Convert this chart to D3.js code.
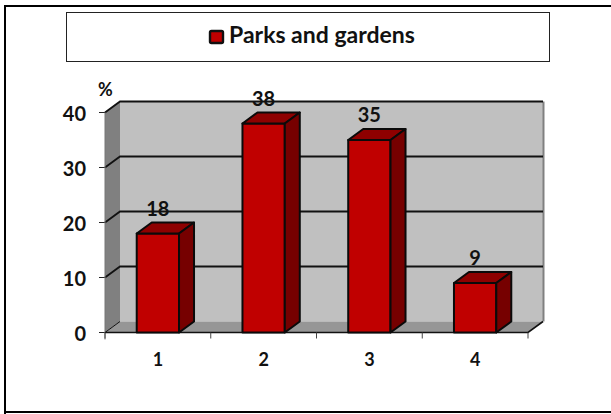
<!DOCTYPE html>
<html><head><meta charset="utf-8">
<script src="https://cdnjs.cloudflare.com/ajax/libs/d3/7.8.5/d3.min.js"></script>
<style>html,body{margin:0;background:#fff}svg{display:block}text{font-family:Lato,"Open Sans","Noto Sans",sans-serif;font-weight:700;fill:#111}</style>
</head><body><script>
const categories = ["1","2","3","4"];
const values = [18,38,35,9];
const labels = ["18","38","35","9"];
const ticks = [0,10,20,30,40];
const seriesName = "Parks and gardens";

const W=611,H=414;
const svg=d3.select("body").append("svg").attr("width",W).attr("height",H);
const x0=105,x1=528,y0=332.5,y40=112.5;
const dx=15,dy=-11;
const x=d3.scaleBand().domain(categories).range([x0,x1]).paddingInner(0.6).paddingOuter(0.3);
const y=d3.scaleLinear().domain([0,40]).range([y0,y40]);
const poly=(pts,fill,stroke,sw)=>svg.append("polygon").attr("points",pts.map(p=>p.join(",")).join(" ")).attr("fill",fill).attr("stroke",stroke||"none").attr("stroke-width",sw||0).attr("stroke-linejoin","round");

svg.append("path").attr("d","M5,414V6H611").attr("fill","none").attr("stroke","#000").attr("stroke-width",2);
svg.append("rect").attr("x",5).attr("y",411).attr("width",W).attr("height",2).attr("fill","#000");
svg.append("rect").attr("x",66.5).attr("y",12.5).attr("width",483).attr("height",49).attr("fill","#fff").attr("stroke","#222").attr("stroke-width",1);
svg.append("rect").attr("x",210).attr("y",31).attr("width",13).attr("height",12).attr("rx",1.5).attr("fill","#c00000").attr("stroke","#111").attr("stroke-width",2.4);
svg.append("text").attr("x",229).attr("y",43).attr("font-size",23).text(seriesName);

poly([[x0,y0],[x0+dx,y0+dy],[x0+dx,y40+dy],[x0,y40]],"#808080");
poly([[x0+dx,y40+dy],[x1+dx,y40+dy],[x1+dx,y0+dy],[x0+dx,y0+dy]],"#c0c0c0");
poly([[x0,y0],[x0+dx,y0+dy],[x1+dx,y0+dy],[x1,y0]],"#969696");
svg.append("line").attr("x1",x1+dx+.5).attr("x2",x1+dx+.5).attr("y1",y40+dy).attr("y2",y0+dy).attr("stroke","#808080").attr("stroke-width",2);

ticks.forEach(t=>{
  const yy=y(t);
  svg.append("path").attr("d",`M${x0},${yy}L${x0+dx},${yy+dy}`+(t>0?`L${x1+dx},${yy+dy}`:"")).attr("fill","none").attr("stroke","#111").attr("stroke-width",t>0?1.8:1);
  svg.append("line").attr("x1",x0-6).attr("x2",x0).attr("y1",yy).attr("y2",yy).attr("stroke","#222");
});
svg.append("line").attr("x1",x0).attr("x2",x0).attr("y1",y40).attr("y2",y0+7).attr("stroke","#777");

ticks.forEach(t=>svg.append("text").attr("x",x0-19).attr("y",y(t)+8).attr("text-anchor","end").attr("font-size",20).text(t));
svg.append("text").attr("x",98).attr("y",96).attr("font-size",18).text("%");

svg.append("path").attr("d",`M${x0},${y0}H${x1}L${x1+dx},${y0+dy}`).attr("fill","none").attr("stroke","#111").attr("stroke-width",1.6);
const step=(x1-x0)/categories.length;
d3.range(categories.length+1).forEach(i=>svg.append("line").attr("x1",x0+i*step).attr("x2",x0+i*step).attr("y1",y0).attr("y2",y0+6).attr("stroke","#444"));
categories.forEach((c,i)=>svg.append("text").attr("x",x0+(i+.5)*step).attr("y",366).attr("text-anchor","middle").attr("font-size",18).text(c));

values.forEach((v,i)=>{
  const l=x(categories[i]),r=l+x.bandwidth(),t=y(v),b=y0;
  poly([[l,b],[l,t],[r,t],[r,b]],"#c00000","#0a0a0a",2);
  poly([[l,t],[l+dx,t+dy],[r+dx,t+dy],[r,t]],"#8e0000","#0a0a0a",2);
  poly([[r,t],[r+dx,t+dy],[r+dx,b+dy],[r,b]],"#760000","#0a0a0a",2);
  svg.append("text").attr("x",(l+r)/2).attr("y",t-18).attr("text-anchor","middle").attr("font-size",20).text(labels[i]);
});
</script></body></html>
